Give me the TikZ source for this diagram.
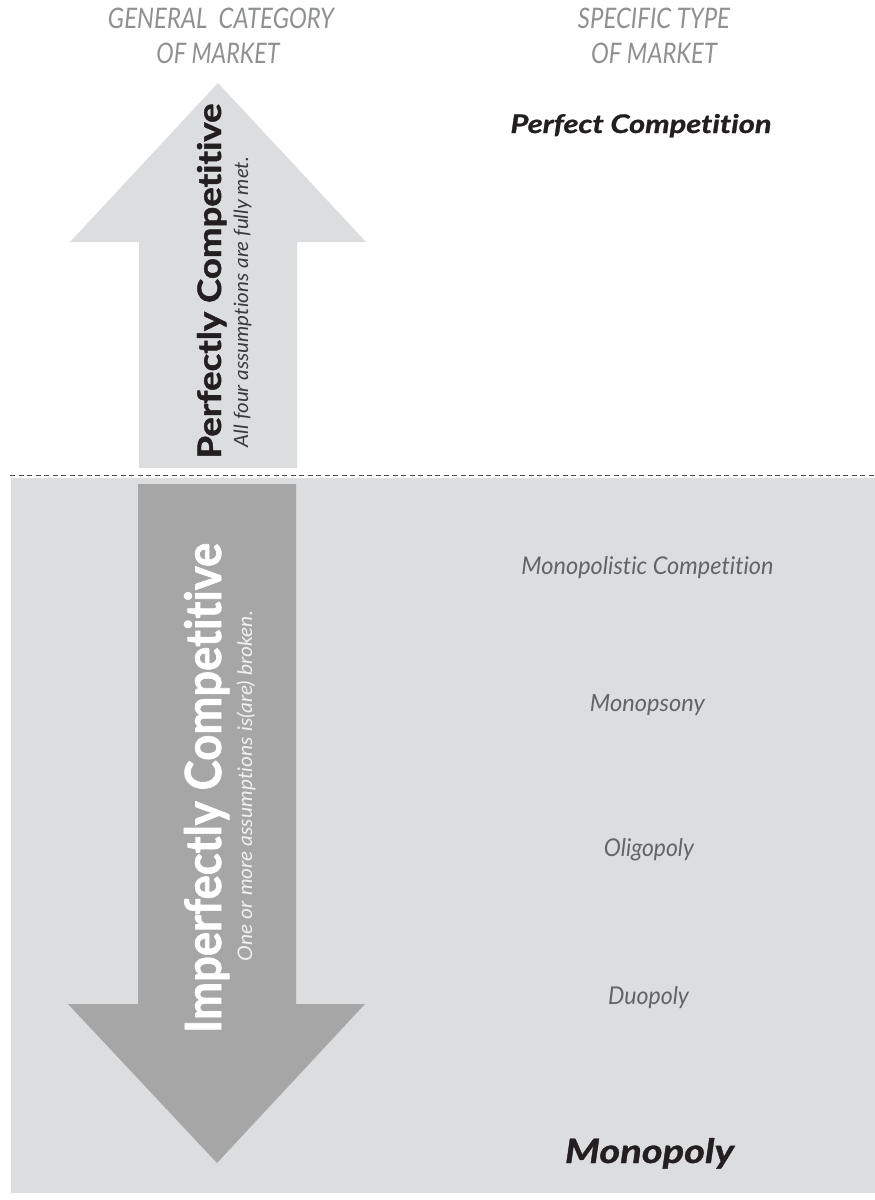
\documentclass[tikz,border=0pt]{standalone}
\usepackage{fontspec}
\setmainfont{Lato}[Ligatures={NoCommon,NoContextual},BoldFeatures={FakeBold=1.4},BoldItalicFeatures={FakeBold=1.0}]
\definecolor{lightgray}{HTML}{DCDDDF}
\definecolor{darkarrow}{HTML}{A6A6A6}
\definecolor{hdrgray}{HTML}{8E9092}
\definecolor{itemgray}{HTML}{636466}
\definecolor{titleblack}{HTML}{231F20}
\definecolor{subdark}{HTML}{3A3A3C}
\definecolor{dashgray}{HTML}{4D4D4F}
\newcommand{\fitwh}[3]{\resizebox{#1pt}{#2pt}{#3}}
\tikzset{
  txt/.style={inner sep=0pt, outer sep=0pt, anchor=base},
  hdr/.style={txt, text=hdrgray, font=\itshape},
  item/.style={txt, text=itemgray, font=\itshape},
  keyitem/.style={txt, text=titleblack, font=\bfseries\itshape},
  vtitle/.style={txt, rotate=90, font=\bfseries},
  vsub/.style={txt, rotate=90, font=\itshape},
}
\begin{document}
\begin{tikzpicture}[x=1pt,y=-1pt]
\useasboundingbox (0,0) rectangle (875,1200);
% background panel for imperfect markets
\fill[lightgray] (11,478) rectangle (875,1193);
\draw[dashgray, line width=0.9pt, dash pattern=on 5pt off 3.5pt] (10,475.5) -- (875,475.5);
% up arrow
\fill[lightgray] (139,468) -- (139,242) -- (70,242) -- (218,83) -- (366,242) -- (297,242) -- (297,468) -- cycle;
% down arrow
\fill[darkarrow] (138,484) -- (296,484) -- (296,1004) -- (365,1004) -- (217,1163) -- (68,1004) -- (138,1004) -- cycle;
% headers
\node[hdr] (hA1) at (221,28.3) {\fitwh{226}{20.5}{GENERAL\ \ CATEGORY}};
\node[hdr] (hA2) at (218,63) {\fitwh{123}{20.5}{OF MARKET}};
\node[hdr] (hB1) at (654,28.3) {\fitwh{152}{20.5}{SPECIFIC\ TYPE}};
\node[hdr] (hB2) at (654,63) {\fitwh{126}{20.5}{OF MARKET}};
% arrow labels
\node[vtitle, text=titleblack] (pc) at (221,281) {\fitwh{355}{24}{Perfectly Competitive}};
\node[vsub, text=subdark] (pcs) at (248,302) {\fitwh{290}{14.5}{All four assumptions are fully met.}};
\node[vtitle, text=white] (ic) at (221,788) {\fitwh{490}{37}{Imperfectly Competitive}};
\node[vsub, text=white!94!black] (ics) at (252,786) {\fitwh{350}{15.5}{One or more assumptions is(are) broken.}};
% market types
\node[keyitem] (perf) at (641,133) {\fitwh{261}{19}{Perfect Competition}};
\node[item] (mc) at (647.5,574) {\fitwh{252}{18}{Monopolistic Competition}};
\node[item] (mps) at (647.5,711.5) {\fitwh{115}{17}{Monopsony}};
\node[item] (olig) at (649,856.5) {\fitwh{90}{18}{Oligopoly}};
\node[item] (duo) at (648.5,1004) {\fitwh{81}{18}{Duopoly}};
\node[keyitem] (mono) at (649.5,1163) {\fitwh{169}{25}{Monopoly}};
\end{tikzpicture}
\end{document}
